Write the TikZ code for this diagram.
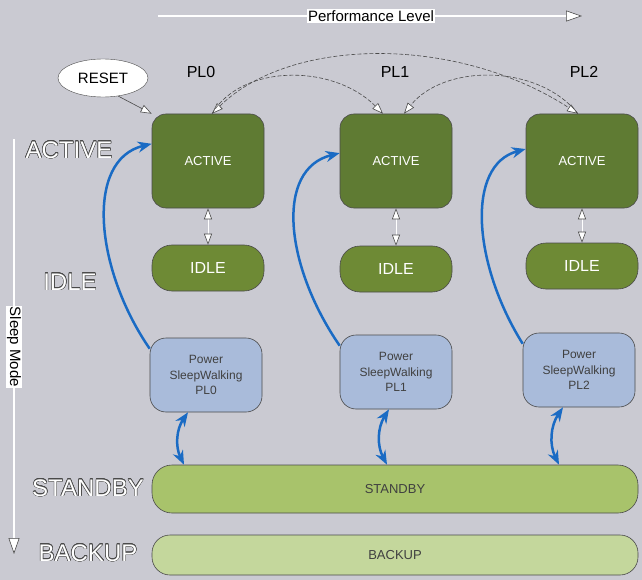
\documentclass[tikz,border=0pt]{standalone}
\usepackage{fontspec}
\setmainfont{Liberation Sans}
\usepackage{contour}
\usetikzlibrary{arrows.meta,shapes.geometric}
\contourlength{0.45pt}

\definecolor{bggray}{HTML}{CACAD2}
\definecolor{activegreen}{HTML}{5F7B33}
\definecolor{idlegreen}{HTML}{6E8A35}
\definecolor{swblue}{HTML}{A9BBDA}
\definecolor{standbygreen}{HTML}{A8C36B}
\definecolor{backupgreen}{HTML}{C4D79C}
\definecolor{wakeblue}{HTML}{1A6BC4}
\definecolor{edgegray}{HTML}{4A4A4A}

\newcommand{\modelabel}[1]{\contour{edgegray}{\textcolor{white}{#1}}}

\tikzset{
  opentri/.tip={Triangle[length=11pt,width=8pt,fill=white,color=edgegray,line width=0.6pt]},
  bigtri/.tip={Triangle[length=16pt,width=11pt,fill=white,color=edgegray,line width=0.6pt]},
  bluetip/.tip={Stealth[length=14pt,width=11pt]}
}

\begin{document}
\begin{tikzpicture}[x=1pt,y=-1pt,
  box/.style={draw=edgegray, line width=0.6pt, rounded corners=14pt, minimum width=112pt, inner sep=0pt, align=center},
  activebox/.style={box, fill=activegreen, minimum height=94pt, text=white, font=\fontsize{13}{15}\selectfont},
  idlebox/.style={box, fill=idlegreen, minimum height=46pt, rounded corners=20pt, text=white, font=\fontsize{16}{18}\selectfont},
  swbox/.style={box, fill=swblue, minimum height=74pt, rounded corners=16pt, text=black!75, font=\fontsize{12}{15.5}\selectfont},
  barbox/.style={box, minimum width=486pt, rounded corners=20pt, text=black!75, font=\fontsize{13}{15}\selectfont},
  modetext/.style={font=\fontsize{24}{26}\selectfont},
  pltext/.style={font=\fontsize{16}{18}\selectfont},
  axistext/.style={fill=white, inner sep=1pt, font=\fontsize{15}{17}\selectfont},
  wake/.style={draw=wakeblue, line width=2.5pt, -bluetip},
  swap/.style={draw=wakeblue, line width=2.5pt, bluetip-bluetip},
  plswitch/.style={draw=edgegray, line width=0.6pt, dash pattern=on 4pt off 2pt, -opentri},
  idleswitch/.style={draw=white, line width=1pt, opentri-opentri}]

\fill[bggray] (0,0) rectangle (642,580);
\useasboundingbox (0,0) rectangle (642,580);

% axes
\coordinate (perf start) at (158,16);
\coordinate (perf end) at (582,16);
\coordinate (sleep start) at (14,139);
\coordinate (sleep end) at (14,554);
\draw[white, line width=2pt, -bigtri] (perf start) -- (perf end);
\draw[white, line width=2pt, -bigtri] (sleep start) -- (sleep end);
\node[axistext] (perf) at (371,16) {Performance Level};
\node[axistext, rotate=-90] (sleep) at (14,347) {Sleep Mode};

% mode labels
\node[modetext] (lactive) at (69,150) {\modelabel{ACTIVE}};
\node[modetext] (lidle) at (70,282) {\modelabel{IDLE}};
\node[modetext] (lstandby) at (88,488) {\modelabel{STANDBY}};
\node[modetext] (lbackup) at (88,553) {\modelabel{BACKUP}};

% performance levels
\node[pltext] (pl0) at (201,72) {PL0};
\node[pltext] (pl1) at (395,72) {PL1};
\node[pltext] (pl2) at (584,72) {PL2};
\node[draw=edgegray, fill=white, ellipse, minimum width=90pt, minimum height=38pt, inner sep=0pt,
  font=\fontsize{15}{17}\selectfont] (reset) at (103,78) {RESET};

\node[activebox] (act0) at (208,161) {ACTIVE};
\node[activebox] (act1) at (396,161) {ACTIVE};
\node[activebox] (act2) at (582,161) {ACTIVE};

\node[idlebox] (idle0) at (208,268) {IDLE};
\node[idlebox] (idle1) at (396,269) {IDLE};
\node[idlebox] (idle2) at (582,266) {IDLE};

\node[swbox] (sw0) at (206,375) {Power\\SleepWalking\\PL0};
\node[swbox] (sw1) at (396,372) {Power\\SleepWalking\\PL1};
\node[swbox] (sw2) at (579,370) {Power\\SleepWalking\\PL2};

\node[barbox, fill=standbygreen, minimum height=48pt] (stby) at (395,489) {STANDBY};
\node[barbox, fill=backupgreen, minimum height=40pt, rounded corners=18pt] (bkup) at (395,555) {BACKUP};

% switching
\draw[draw=edgegray, line width=0.6pt, -opentri] (reset.-50) -- (act0.north west);
\draw[plswitch, opentri-opentri] ([xshift=4pt]act0.north) .. controls +(80,-78) and +(-120,-78) .. ([xshift=-4pt]act2.north);
\draw[plswitch] ([xshift=4pt]act0.north) .. controls +(30,-50) and +(-50,-50) .. ([xshift=-13pt]act1.north);
\draw[plswitch] ([xshift=-4pt]act2.north) .. controls +(-40,-50) and +(40,-50) .. ([xshift=8pt]act1.north);

\draw[idleswitch] (act0) -- (idle0);
\draw[idleswitch] (act1) -- (idle1);
\draw[idleswitch] (act2) -- (idle2);

% sleepwalking
\draw[wake] (sw0.155) .. controls +(-55,-80) and +(-67,16) .. (act0.163);
\draw[wake] (sw1.155) .. controls +(-55,-80) and +(-65,16) .. (act1.172);
\draw[wake] (sw2.155) .. controls +(-50,-80) and +(-60,16) .. (act2.168);

\draw[swap] ([xshift=-18pt]sw0.south) to[bend right=30] ([xshift=-22pt]sw0.south |- stby.north);
\draw[swap] ([xshift=-7pt]sw1.south) to[bend right=30] ([xshift=-9pt]sw1.south |- stby.north);
\draw[swap] ([xshift=-16pt]sw2.south) to[bend right=30] ([xshift=-20pt]sw2.south |- stby.north);
\end{tikzpicture}
\end{document}
